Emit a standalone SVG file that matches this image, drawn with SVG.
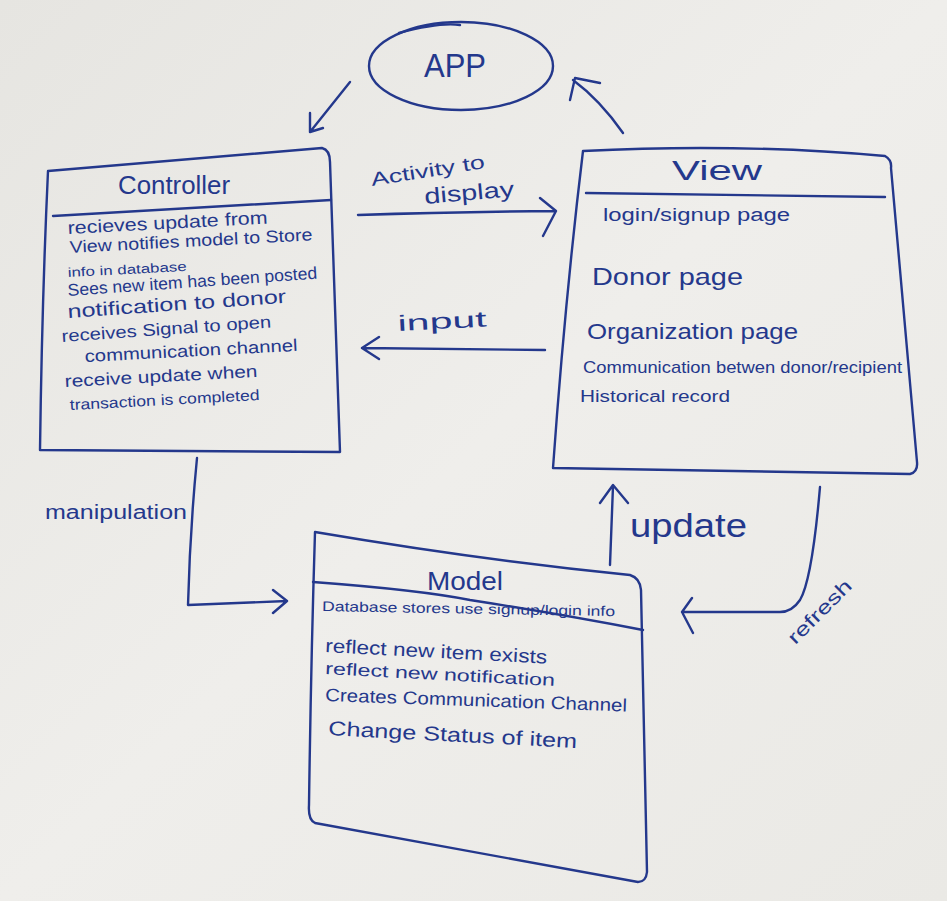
<svg xmlns="http://www.w3.org/2000/svg" width="947" height="901" viewBox="0 0 947 901">
<defs>
<linearGradient id="bg" x1="0" y1="0" x2="1" y2="1">
<stop offset="0" stop-color="#e6e5e1"/>
<stop offset="0.5" stop-color="#efeeeb"/>
<stop offset="1" stop-color="#eae9e5"/>
</linearGradient>
</defs>
<style>
.ink{fill:none;stroke:#24388c;stroke-width:2.4;stroke-linecap:round;stroke-linejoin:round}
.t{fill:#24388c;font-family:"Liberation Sans","DejaVu Sans",sans-serif}
</style>
<rect width="947" height="901" fill="url(#bg)"/>

<g id="app">
<ellipse class="ink" cx="461" cy="66" rx="92" ry="44"/>
<path class="ink" d="M399,33 Q440,22 460,25"/>
<text class="t" x="455" y="77" font-size="34" text-anchor="middle" textLength="62" lengthAdjust="spacingAndGlyphs">APP</text>
</g>

<g id="controller">
<path class="ink" d="M48,171 L322,148 Q330,150 330,162 L340,452 L40,450 Q42,300 48,171 Z"/>
<path class="ink" d="M53,216 L331,200"/>
<text class="t" x="118" y="194" font-size="25" textLength="112" lengthAdjust="spacingAndGlyphs">Controller</text>
<text class="t" x="68" y="234" font-size="18" textLength="200" lengthAdjust="spacingAndGlyphs" transform="rotate(-3 68 234)">recieves update from</text>
<text class="t" x="70" y="253" font-size="17" textLength="243" lengthAdjust="spacingAndGlyphs" transform="rotate(-3 70 253)">View notifies model to Store</text>
<text class="t" x="68" y="277" font-size="13" textLength="119" lengthAdjust="spacingAndGlyphs" transform="rotate(-3 68 277)">info in database</text>
<text class="t" x="68" y="296" font-size="17" textLength="250" lengthAdjust="spacingAndGlyphs" transform="rotate(-4 68 296)">Sees new item has been posted</text>
<text class="t" x="68" y="318" font-size="19" textLength="219" lengthAdjust="spacingAndGlyphs" transform="rotate(-4 68 318)">notification to donor</text>
<text class="t" x="62" y="342" font-size="17" textLength="210" lengthAdjust="spacingAndGlyphs" transform="rotate(-4 62 342)">receives Signal to open</text>
<text class="t" x="85" y="362" font-size="17" textLength="213" lengthAdjust="spacingAndGlyphs" transform="rotate(-3 85 362)">communication channel</text>
<text class="t" x="65" y="387" font-size="17" textLength="193" lengthAdjust="spacingAndGlyphs" transform="rotate(-3 65 387)">receive update when</text>
<text class="t" x="70" y="410" font-size="15" textLength="190" lengthAdjust="spacingAndGlyphs" transform="rotate(-3 70 410)">transaction is completed</text>
</g>

<g id="view">
<path class="ink" d="M583,151 Q740,143 885,156 Q892,160 891,168 L917,462 Q918,472 910,474 L553,468 Q565,300 583,151 Z"/>
<path class="ink" d="M586,193 L885,197"/>
<text class="t" x="717" y="180" font-size="28" text-anchor="middle" textLength="90" lengthAdjust="spacingAndGlyphs">View</text>
<text class="t" x="603" y="221" font-size="18" textLength="187" lengthAdjust="spacingAndGlyphs">login/signup page</text>
<text class="t" x="592" y="285" font-size="24" textLength="151" lengthAdjust="spacingAndGlyphs">Donor page</text>
<text class="t" x="587" y="339" font-size="22" textLength="211" lengthAdjust="spacingAndGlyphs">Organization page</text>
<text class="t" x="583" y="373" font-size="17" textLength="319" lengthAdjust="spacingAndGlyphs">Communication betwen donor/recipient</text>
<text class="t" x="580" y="402" font-size="16" textLength="150" lengthAdjust="spacingAndGlyphs">Historical record</text>
</g>

<g id="model">
<path class="ink" d="M315,532 Q480,560 630,575 Q640,578 641,590 L647,872 Q646,882 638,882 L315,823 Q308,820 309,805 Q311,660 315,532 Z"/>
<path class="ink" d="M313,582 Q420,590 470,600 Q560,614 643,630"/>
<text class="t" x="465" y="590" font-size="25" text-anchor="middle" textLength="76" lengthAdjust="spacingAndGlyphs">Model</text>
<text class="t" x="322" y="611" font-size="14" textLength="293" lengthAdjust="spacingAndGlyphs" transform="rotate(1 322 611)">Database stores use signup/login info</text>
<text class="t" x="325" y="652" font-size="19" textLength="222" lengthAdjust="spacingAndGlyphs" transform="rotate(3 325 652)">reflect new item exists</text>
<text class="t" x="325" y="674" font-size="17" textLength="230" lengthAdjust="spacingAndGlyphs" transform="rotate(3 325 674)">reflect new notification</text>
<text class="t" x="325" y="701" font-size="18" textLength="302" lengthAdjust="spacingAndGlyphs" transform="rotate(2 325 701)">Creates Communication Channel</text>
<text class="t" x="328" y="735" font-size="20" textLength="249" lengthAdjust="spacingAndGlyphs" transform="rotate(3 328 735)">Change Status of item</text>
</g>

<g id="connectors">
<path class="ink" d="M350,82 L310,132 M310,113 L310,132 L323,128"/>
<path class="ink" d="M623,133 Q600,100 573,80 M570,100 L575,78 L600,83"/>
<path class="ink" d="M358,215 Q450,212 555,211 M540,198 L556,211 L543,236"/>
<path class="ink" d="M545,350 L362,348 M379,337 L362,348 L379,359"/>
<path class="ink" d="M197,458 Q190,530 188,605 L287,601 M273,590 L287,601 L273,613"/>
<path class="ink" d="M610,565 L613,486 M600,503 L613,485 L628,503"/>
<path class="ink" d="M820,487 Q812,580 800,600 Q792,612 780,612 L682,612 M692,598 L682,612 L693,633"/>
<text class="t" x="372" y="186" font-size="19" textLength="115" lengthAdjust="spacingAndGlyphs" transform="rotate(-9 372 186)">Activity to</text>
<text class="t" x="425" y="204" font-size="22" textLength="90" lengthAdjust="spacingAndGlyphs" transform="rotate(-5 425 204)">display</text>
<text class="t" x="398" y="331" font-size="22" textLength="89" lengthAdjust="spacingAndGlyphs" transform="rotate(-3 398 331)">input</text>
<text class="t" x="45" y="519" font-size="20" textLength="142" lengthAdjust="spacingAndGlyphs">manipulation</text>
<text class="t" x="630" y="537" font-size="34" textLength="117" lengthAdjust="spacingAndGlyphs">update</text>
<text class="t" x="820" y="618" font-size="19" text-anchor="middle" textLength="82" lengthAdjust="spacingAndGlyphs" transform="rotate(-45 820 612)">refresh</text>
</g>
</svg>
